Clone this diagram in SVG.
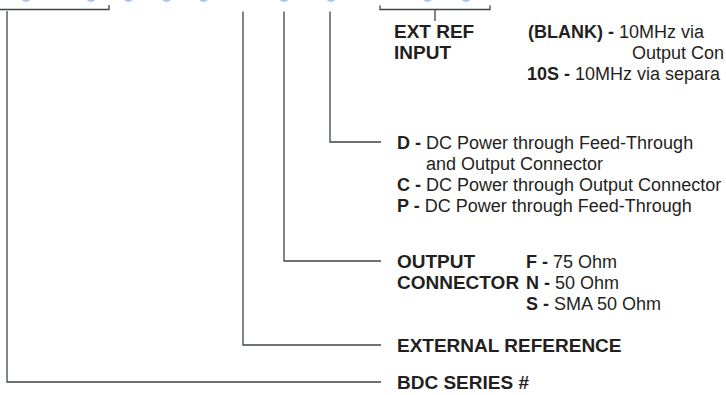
<svg xmlns="http://www.w3.org/2000/svg" width="726" height="395" viewBox="0 0 726 395">
<style>
.ln{fill:none;stroke:#3e4545;stroke-width:1.3}
.t{font-family:"Liberation Sans",Arial,sans-serif;font-size:18px;fill:#231f20}
.b{font-weight:bold}
.h{font-family:"Liberation Sans",Arial,sans-serif;font-size:19px;font-weight:bold;fill:#231f20}
.bl{fill:#a9c4ea}
</style>
<rect width="726" height="395" fill="#ffffff"/>
<g id="top-marks">
<ellipse class="bl" cx="26" cy="-3" rx="5" ry="5"/>
<ellipse class="bl" cx="91" cy="-3" rx="5" ry="5"/>
<ellipse class="bl" cx="128.5" cy="-3" rx="5" ry="5"/>
<ellipse class="bl" cx="166.5" cy="-3" rx="5" ry="5"/>
<ellipse class="bl" cx="203.5" cy="-3" rx="5" ry="5"/>
<ellipse class="bl" cx="284" cy="-3" rx="5" ry="5"/>
<ellipse class="bl" cx="331" cy="-3" rx="5" ry="5"/>
<ellipse class="bl" cx="427.5" cy="-3" rx="5" ry="5"/>
<ellipse class="bl" cx="466" cy="-3" rx="5" ry="5"/>
</g>
<g id="connectors">
<path class="ln" d="M0 9.5 H109 V5"/>
<path class="ln" d="M7 11 V382 H381"/>
<path class="ln" d="M243 11.5 V345 H381"/>
<path class="ln" d="M284 11.5 V261 H381"/>
<path class="ln" d="M330 11.5 V142 H381"/>
<path class="ln" d="M380 5.5 V9.5 H490 V5.5 M435 9.5 V21"/>
</g>
<g id="ext-ref-input">
<text class="h" x="394" y="38">EXT REF</text>
<text class="h" x="394" y="59">INPUT</text>
<text class="t" x="528" y="38"><tspan class="b">(BLANK) -</tspan> 10MHz via</text>
<text class="t" x="632" y="59">Output Con</text>
<text class="t" x="527" y="80"><tspan class="b">10S -</tspan> 10MHz via separa</text>
</g>
<g id="dc-power">
<text class="t" x="397" y="149"><tspan class="b">D -</tspan> DC Power through Feed-Through</text>
<text class="t" x="426" y="170">and Output Connector</text>
<text class="t" x="397" y="191"><tspan class="b">C -</tspan> DC Power through Output Connector</text>
<text class="t" x="397" y="212"><tspan class="b">P -</tspan> DC Power through Feed-Through</text>
</g>
<g id="output-connector">
<text class="h" x="397" y="268">OUTPUT</text>
<text class="h" x="397" y="289">CONNECTOR</text>
<text class="t" x="526" y="268"><tspan class="b">F -</tspan> 75 Ohm</text>
<text class="t" x="526" y="289"><tspan class="b">N -</tspan> 50 Ohm</text>
<text class="t" x="526" y="310"><tspan class="b">S -</tspan> SMA 50 Ohm</text>
</g>
<g id="external-reference">
<text class="h" x="397" y="352">EXTERNAL REFERENCE</text>
</g>
<g id="bdc-series">
<text class="h" x="397" y="389">BDC SERIES #</text>
</g>
</svg>
